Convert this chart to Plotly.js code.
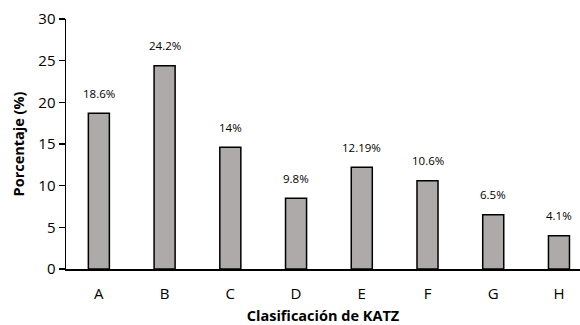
<!DOCTYPE html>
<html><head><meta charset="utf-8">
<script src="https://cdn.plot.ly/plotly-3.0.1.min.js"></script>
<style>html,body{margin:0;padding:0;background:#fff}#c{width:580px;height:325px}</style>
</head><body><div id="c"></div>
<script>
const categories = ["A","B","C","D","E","F","G","H"];
const values = [18.7, 24.4, 14.6, 8.5, 12.2, 10.6, 6.5, 4.0];
const labels = ["18.6%","24.2%","14%","9.8%","12.19%","10.6%","6.5%","4.1%"];
const yTicks = [0,5,10,15,20,25,30];

const font = "Open Sans, Liberation Sans, sans-serif";
const trace = {
  type: "bar", x: categories, y: values, width: 0.32,
  marker: {color: "#aeaaaa", line: {color: "#000", width: 1.5}},
  hoverinfo: "none"
};
const annotations = categories.map((c, i) => ({
  x: c, y: values[i], xref: "x", yref: "y", text: labels[i], showarrow: false,
  yshift: 20, font: {family: font, size: 11.5, color: "#000"}
}));
Plotly.newPlot("c", [trace], {
  width: 580, height: 325,
  margin: {l: 66, r: 0, t: 19, b: 56},
  paper_bgcolor: "#fff", plot_bgcolor: "#fff",
  showlegend: false,
  xaxis: {range: [-0.5, 7.32], showline: true, linecolor: "#000", linewidth: 1.5,
    ticks: "", showgrid: false, zeroline: false, ticklabelstandoff: 10,
    tickfont: {family: font, size: 15, color: "#000"},
    title: {text: "<b>Clasificación de KATZ</b>", font: {family: font, size: 14.5, color: "#000"}, standoff: 11}},
  yaxis: {range: [0, 30], tickvals: yTicks, showline: true, linecolor: "#000", linewidth: 1.5,
    ticks: "outside", ticklen: 6, tickwidth: 1.5, tickcolor: "#000", showgrid: false, zeroline: false,
    tickfont: {family: font, size: 15, color: "#000"},
    title: {text: "<b>Porcentaje (%)</b>", font: {family: font, size: 14.5, color: "#000"}, standoff: 10}},
  annotations: annotations
}, {staticPlot: true});
</script></body></html>
